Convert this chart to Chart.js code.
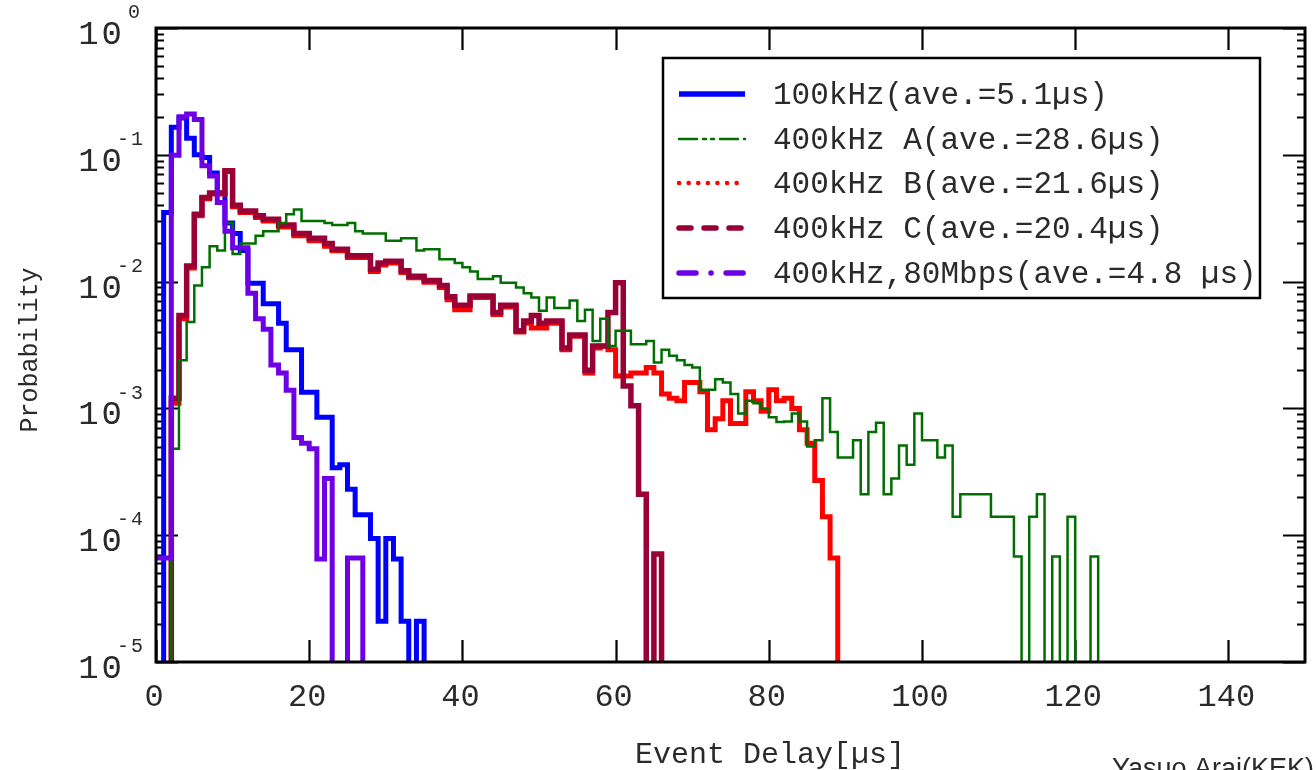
<!DOCTYPE html>
<html><head><meta charset="utf-8">
<script src="https://cdn.jsdelivr.net/npm/chart.js@4/dist/chart.umd.min.js"></script>
<style>html,body{margin:0;padding:0;background:#fff;}#wrap{width:1316px;height:770px;position:relative;}</style>
</head><body><div id="wrap"><canvas id="c" width="1316" height="770"></canvas></div>
<script>
// ---- data (histograms, 1 µs bins starting at 0 µs) ----
const binStart = 0;
const binWidth = 1;
const seriesLabels = ['100kHz(ave.=5.1\u00b5s)', '400kHz A(ave.=28.6\u00b5s)', '400kHz B(ave.=21.6\u00b5s)', '400kHz C(ave.=20.4\u00b5s)', '400kHz,80Mbps(ave.=4.8 \u00b5s)'];
const xTickValues = [0, 20, 40, 60, 80, 100, 120, 140];
const yTickExponents = [0, -1, -2, -3, -4, -5];

const blueVals = [0, 0.035, 0.165, 0.195, 0.135, 0.1, 0.095, 0.072, 0.05, 0.029, 0.024, 0.0176, 0.0097, 0.0097, 0.0067, 0.0067, 0.0047, 0.0029, 0.0029, 0.00134, 0.00134, 0.00085, 0.00085, 0.00034, 0.00036, 0.00023, 0.000145, 0.000145, 0.000094, 0.000021, 0.000094, 0.000065, 0.000021, 0, 0.000021];

const greenVals = [0, 0, 0.00048, 0.0024, 0.0048, 0.0093, 0.013, 0.019, 0.0176, 0.029, 0.0165, 0.02, 0.02, 0.023, 0.025, 0.025, 0.029, 0.034, 0.037, 0.030, 0.030, 0.030, 0.029, 0.028, 0.028, 0.029, 0.025, 0.024, 0.024, 0.024, 0.021, 0.021, 0.022, 0.022, 0.0176, 0.018, 0.018, 0.015, 0.015, 0.014, 0.013, 0.012, 0.0105, 0.0105, 0.011, 0.0098, 0.0098, 0.009, 0.0081, 0.0075, 0.0059, 0.0075, 0.0062, 0.0062, 0.0071, 0.0049, 0.006, 0.0034, 0.0051, 0.0031, 0.0041, 0.0041, 0.0032, 0.0032, 0.0034, 0.0023, 0.0029, 0.0026, 0.0024, 0.0022, 0.0021, 0.0014, 0.0014, 0.0017, 0.0016, 0.0013, 0.00091, 0.00115, 0.0011, 0.001, 0.00085, 0.00078, 0.00079, 0.00091, 0.00079, 0.0005, 0.00056, 0.0012, 0.00065, 0.00041, 0.00041, 0.00056, 0.00021, 0.00065, 0.00077, 0.00021, 0.00028, 0.00051, 0.00036, 0.00091, 0.00056, 0.00056, 0.00041, 0.00051, 0.00014, 0.00021, 0.00021, 0.00021, 0.00021, 0.00014, 0.00014, 0.00014, 0.000068, 0, 0.00014, 0.00021, 0, 0.000068, 0, 0.00014, 0, 0, 0.000068];

const redVals = [0, 0, 0.0011, 0.0051, 0.0128, 0.033, 0.045, 0.049, 0.049, 0.074, 0.039, 0.035, 0.035, 0.032, 0.030, 0.030, 0.027, 0.027, 0.023, 0.023, 0.021, 0.021, 0.019, 0.0175, 0.0175, 0.0155, 0.0155, 0.0155, 0.012, 0.0135, 0.014, 0.014, 0.0118, 0.0107, 0.0107, 0.0099, 0.0099, 0.009, 0.0072, 0.006, 0.006, 0.0075, 0.0075, 0.0075, 0.0055, 0.0063, 0.0063, 0.004, 0.0047, 0.0043, 0.0043, 0.0047, 0.0047, 0.0029, 0.0037, 0.0037, 0.0019, 0.0030, 0.0031, 0.0029, 0.0018, 0.0018, 0.0019, 0.0019, 0.0021, 0.0019, 0.0013, 0.0012, 0.00115, 0.0016, 0.0016, 0.00135, 0.00068, 0.00083, 0.00115, 0.00076, 0.00076, 0.00135, 0.00115, 0.00095, 0.0014, 0.00115, 0.0012, 0.001, 0.00068, 0.00053, 0.00027, 0.00014, 0.000066];

const maroonVals = [0, 0, 0.0012, 0.0054, 0.0133, 0.034, 0.046, 0.05, 0.05, 0.075, 0.04, 0.036, 0.036, 0.033, 0.031, 0.031, 0.028, 0.028, 0.024, 0.024, 0.022, 0.022, 0.020, 0.018, 0.018, 0.016, 0.016, 0.016, 0.0125, 0.014, 0.0145, 0.0145, 0.0122, 0.011, 0.011, 0.0102, 0.0102, 0.0093, 0.0076, 0.0065, 0.0065, 0.0077, 0.0077, 0.0077, 0.0057, 0.0065, 0.0065, 0.0041, 0.0049, 0.0054, 0.0047, 0.0049, 0.0049, 0.003, 0.0038, 0.0038, 0.002, 0.0031, 0.0031, 0.0057, 0.0098, 0.0015, 0.00105, 0.00021, 0, 0.000071];

const purpleVals = [0.000066, 0.000066, 0.099, 0.2, 0.21, 0.19, 0.082, 0.068, 0.042, 0.025, 0.0185, 0.0185, 0.0081, 0.0051, 0.0042, 0.0022, 0.0019, 0.00139, 0.00059, 0.00053, 0.00048, 0.000065, 0.00028, 0, 0, 0.000066, 0.000066];

// ---- styles ----
const FLOOR = 1e-7; // empty bins fall below the axis and are clipped
const colors = ['#0000ff', '#006e00', '#ff0000', '#990036', '#6e00e6'];
const widths = [5, 2.5, 5, 5.5, 5];
const drawOrder = [4, 1, 3, 2, 0];
const legendDash = [[], [18, 6, 3, 5, 3, 6], [0.1, 9.5], [12, 13], [17, 15, 0.1, 15]];

function steps(vals) {
  const pts = [];
  for (let i = 0; i < vals.length; i++) pts.push({x: binStart + i * binWidth, y: vals[i] > 0 ? vals[i] : FLOOR});
  pts.push({x: binStart + vals.length * binWidth, y: FLOOR});
  return pts;
}
const allVals = [blueVals, greenVals, redVals, maroonVals, purpleVals];
const datasets = allVals.map((v, i) => ({
  label: seriesLabels[i], data: steps(v), borderColor: colors[i], borderWidth: widths[i],
  stepped: 'before', pointRadius: 0, fill: false, order: drawOrder[i],
  borderJoinStyle: 'miter', borderCapStyle: 'butt'
}));

const MONO = '"Liberation Mono", "Courier New", monospace';
const TXT = '#2a2a2a';

const axesPlugin = {
  id: 'axesPlugin',
  beforeDatasetsDraw(chart) {
    const {ctx, chartArea: a, scales: {x, y}} = chart;
    ctx.save();
    ctx.strokeStyle = '#000';
    ctx.lineWidth = 2.2;
    ctx.beginPath();
    for (let e = -5; e <= 0; e++) {
      for (let m = 1; m <= 9; m++) {
        const v = m * Math.pow(10, e);
        if (v > 1.0000001) continue;
        const py = Math.round(y.getPixelForValue(v)) + 0.5;
        const len = m === 1 ? 22 : 8;
        ctx.moveTo(a.left, py); ctx.lineTo(a.left + len, py);
        ctx.moveTo(a.right, py); ctx.lineTo(a.right - len, py);
      }
    }
    xTickValues.forEach(v => {
      const px = Math.round(x.getPixelForValue(v)) + 0.5;
      ctx.moveTo(px, a.bottom); ctx.lineTo(px, a.bottom - 22);
      ctx.moveTo(px, a.top); ctx.lineTo(px, a.top + 22);
    });
    ctx.stroke();
    ctx.restore();
  },
  afterDatasetsDraw(chart) {
    const {ctx, chartArea: a, scales: {x, y}} = chart;
    ctx.save();
    // frame
    ctx.strokeStyle = '#000';
    ctx.lineWidth = 3;
    ctx.strokeRect(a.left, a.top, a.right - a.left, a.bottom - a.top);
    // y labels
    ctx.fillStyle = TXT;
    yTickExponents.forEach(e => {
      const py = y.getPixelForValue(Math.pow(10, e));
      ctx.font = '34px ' + MONO;
      ctx.letterSpacing = '3px';
      ctx.textAlign = 'right'; ctx.textBaseline = 'middle';
      ctx.fillText('10', 125, py + 7);
      ctx.letterSpacing = '2px';
      ctx.font = '20px ' + MONO;
      ctx.textAlign = 'left';
      ctx.fillText(e === 0 ? '0' : '-' + (-e), e === 0 ? 128 : 117, py - 15);
    });
    ctx.letterSpacing = '0px';
    // x labels
    ctx.font = '32px ' + MONO;
    ctx.textAlign = 'center'; ctx.textBaseline = 'middle';
    xTickValues.forEach(v => ctx.fillText(String(v), x.getPixelForValue(v) - 2, 698));
    // axis titles
    ctx.font = '30px ' + MONO;
    ctx.fillText('Event Delay[\u00b5s]', 770, 755);
    ctx.save();
    ctx.translate(30, 350); ctx.rotate(-Math.PI / 2);
    ctx.font = '25px ' + MONO;
    ctx.fillText('Probability', 0, 0);
    ctx.restore();
    // credit
    ctx.font = '27px "Liberation Sans", Arial, sans-serif';
    ctx.textAlign = 'left'; ctx.textBaseline = 'alphabetic';
    ctx.fillText('Yasuo Arai(KEK)', 1112, 777);
    // legend
    const L = {x: 663, y: 58, w: 597, h: 240};
    ctx.fillStyle = '#fff';
    ctx.fillRect(L.x, L.y, L.w, L.h);
    ctx.strokeStyle = '#000'; ctx.lineWidth = 2.5;
    ctx.strokeRect(L.x, L.y, L.w, L.h);
    const rows = [94, 139, 183, 228, 273];
    seriesLabels.forEach((lab, i) => {
      const ry = rows[i];
      ctx.save();
      ctx.strokeStyle = colors[i];
      ctx.lineWidth = i === 1 ? 2.5 : (i === 2 ? 4.5 : 5.5);
      ctx.lineCap = i === 0 ? 'butt' : 'round';
      ctx.setLineDash(legendDash[i]);
      ctx.beginPath(); ctx.moveTo(679, ry); ctx.lineTo(745, ry); ctx.stroke();
      ctx.restore();
      ctx.fillStyle = TXT;
      ctx.font = '31px ' + MONO;
      ctx.textAlign = 'left'; ctx.textBaseline = 'middle';
      ctx.fillText(lab, 773, ry + 2);
    });
    ctx.restore();
  }
};

new Chart(document.getElementById('c'), {
  type: 'line',
  data: {datasets},
  options: {
    responsive: false, animation: false, events: [],
    layout: {padding: {left: 156, top: 28, right: 11, bottom: 108}},
    scales: {
      x: {type: 'linear', min: 0, max: 150, display: false},
      y: {type: 'logarithmic', min: 1e-5, max: 1, display: false}
    },
    plugins: {legend: {display: false}, tooltip: {enabled: false}},
    elements: {point: {radius: 0}, line: {tension: 0}}
  },
  plugins: [axesPlugin]
});
</script></body></html>
